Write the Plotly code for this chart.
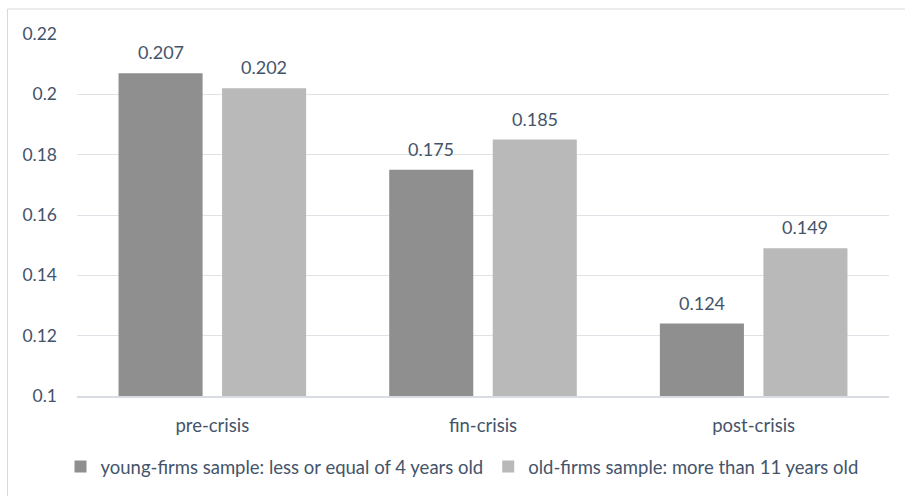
import plotly.graph_objects as go

# Periods on the x axis
periods = ["pre-crisis", "fin-crisis", "post-crisis"]

# Mean values per firm-age sample
young_firms = [0.207, 0.175, 0.124]
old_firms = [0.202, 0.185, 0.149]

series_names = [
    "young-firms sample: less or equal of 4 years old",
    "old-firms sample: more than 11 years old",
]
series_colors = ["#8f8f8f", "#b9b9b9"]

text_color = "#44546a"
font_family = "Lato, 'Open Sans', sans-serif"

W, H = 905, 496
M_L, M_R, M_T, M_B = 77, 16, 33.5, 100.3
plot_w = W - M_L - M_R
plot_h = H - M_T - M_B
BARGAP, BARGROUPGAP = 0.235, 0.188

fig = go.Figure()
for name, values, color in zip(series_names, [young_firms, old_firms], series_colors):
    fig.add_trace(go.Bar(
        x=periods, y=values, name=name,
        marker=dict(color=color, line=dict(width=0)),
    ))

# Value labels above each bar; horizontal offset is half a bar slot in pixels
slot_px = plot_w / len(periods) * (1 - BARGAP) / 2
for k, values in enumerate([young_firms, old_firms]):
    shift = (k - 0.5) * slot_px
    for period, v in zip(periods, values):
        fig.add_annotation(
            x=period, y=v, text=f"{v:.3f}", showarrow=False,
            xshift=shift, yshift=21, yanchor="middle",
            font=dict(size=18, color=text_color, family=font_family),
        )

# Chart-area frame (runs off the right and bottom edges)
fig.add_shape(
    type="rect", xref="paper", yref="paper",
    x0=(7.5 - M_L) / plot_w, x1=1.1,
    y0=-0.4, y1=1 + (M_T - 8.5) / plot_h,
    line=dict(color="#d9d9d9", width=1), fillcolor="rgba(0,0,0,0)",
    layer="below",
)

fig.update_layout(
    width=W, height=H,
    margin=dict(l=M_L, r=M_R, t=M_T, b=M_B, pad=0),
    paper_bgcolor="white", plot_bgcolor="white",
    font=dict(family=font_family, color=text_color, size=18),
    barmode="group", bargap=BARGAP, bargroupgap=BARGROUPGAP,
    showlegend=True,
    legend=dict(
        orientation="h", xref="container", x=462 / W, xanchor="center",
        yref="container", y=1 - 467 / H, yanchor="middle",
        font=dict(size=18.5, color=text_color, family=font_family),
        itemwidth=30, traceorder="normal",
        bgcolor="rgba(0,0,0,0)",
    ),
    xaxis=dict(
        showline=True, linecolor="#d9dde3", linewidth=2,
        showgrid=False, ticks="", ticklabelstandoff=12,
        tickfont=dict(size=18.5, color=text_color),
    ),
    yaxis=dict(
        range=[0.1, 0.22], dtick=0.02, tick0=0.1,
        tickformat=".2~f",
        showgrid=True, gridcolor="#dfe3e8", gridwidth=1,
        zeroline=False, showline=False, ticks="",
        ticklabelstandoff=19,
        tickfont=dict(size=17.5, color=text_color),
    ),
)

fig.write_html("out.html")
